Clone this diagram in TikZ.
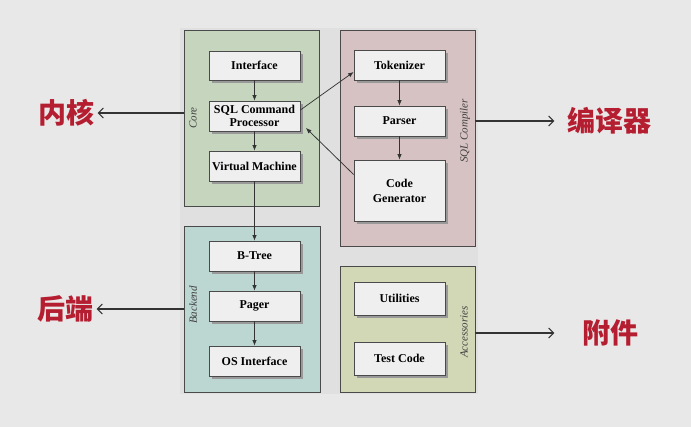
\documentclass[tikz,border=0pt]{standalone}
\usepackage{fontspec}
\setmainfont{Liberation Serif}
\newfontfamily\cjk{Noto Sans CJK SC}
\usetikzlibrary{arrows.meta,shadows}
\definecolor{bgc}{HTML}{E8E8E8}
\definecolor{panelc}{HTML}{E0E0E0}
\definecolor{corec}{HTML}{C6D6BE}
\definecolor{compc}{HTML}{D6C2C2}
\definecolor{backc}{HTML}{BCD6D2}
\definecolor{accc}{HTML}{D2D8B6}
\definecolor{boxc}{HTML}{EFEFEF}
\definecolor{edgec}{HTML}{4A4A4A}
\definecolor{redc}{HTML}{B51D30}
\begin{document}
\begin{tikzpicture}[x=1pt,y=-1pt,
  group/.style={draw=edgec,line width=0.9pt},
  inner/.style={draw=edgec,line width=0.8pt,fill=boxc,minimum width=91pt,
    inner sep=1pt,align=center,font=\bfseries\fontsize{12}{13}\selectfont,
    drop shadow={shadow xshift=3pt,shadow yshift=-3pt,fill=black!40,opacity=1}},
  glabel/.style={font=\itshape\fontsize{11}{12}\selectfont,text=black!75,rotate=90},
  flow/.style={draw=black!80,line width=0.75pt,-{Latex[length=5.5pt,width=4.5pt]}},
  side/.style={draw=black!80,line width=1.1pt,-{Straight Barb[length=5pt,width=10pt]}},
  cn/.style={font=\cjk\bfseries\fontsize{28}{30}\selectfont,text=redc}]
\useasboundingbox (0,0) rectangle (691,427);
\fill[bgc] (0,0) rectangle (691,427);
\fill[panelc] (180,28) rectangle (478,394);
% groups
\draw[group,fill=corec] (184,30) rectangle (319,206);
\draw[group,fill=compc] (340,30) rectangle (475,246);
\draw[group,fill=backc] (184,226) rectangle (320,392);
\draw[group,fill=accc] (340,266) rectangle (475,392);
\coordinate (coreL) at (184,113);
\coordinate (backL) at (184,309);
\coordinate (compR) at (475,121);
\coordinate (accR) at (475,333);
\node[glabel] (lcore) at (193,118) {Core};
\node[glabel] (lcomp) at (465,131) {SQL Compiler};
\node[glabel] (lback) at (193,305) {Backend};
\node[glabel] (lacc) at (464,332) {Accessories};
% inner boxes
\node[inner,minimum height=29pt] (iface) at (254.5,65.5) {Interface};
\node[inner,minimum height=30pt] (sql) at (254.5,116) {SQL Command\\Processor};
\node[inner,minimum height=30pt] (vm) at (254.5,166) {Virtual Machine};
\node[inner,minimum height=30pt] (tok) at (399.5,65) {Tokenizer};
\node[inner,minimum height=30pt] (parse) at (399.5,121) {Parser};
\node[inner,minimum height=61pt] (cg) at (399.5,190.5) {Code\\[2pt]Generator};
\node[inner,minimum height=30pt] (bt) at (254.5,256) {B-Tree};
\node[inner,minimum height=30pt] (pg) at (254.5,306) {Pager};
\node[inner,minimum height=30pt] (os) at (254.5,361) {OS Interface};
\node[inner,minimum height=33pt] (util) at (399.5,298.5) {Utilities};
\node[inner,minimum height=33pt] (test) at (399.5,358.5) {Test Code};
% flows
\draw[flow] (iface) -- (sql);
\draw[flow] (sql) -- (vm);
\draw[flow] (vm) -- (bt);
\draw[flow] (bt) -- (pg);
\draw[flow] (pg) -- (os);
\draw[flow] (tok) -- (parse);
\draw[flow] (parse) -- (cg);
\draw[flow] (sql.east) ++(0,-6) -- (tok.west |- 0,72);
\draw[flow] (cg.west) ++(0,-16) -- (306,128);
% side labels
\node[cn] (ncore) at (66,113) {内核};
\node[cn] (nback) at (65,309) {后端};
\node[cn] (ncomp) at (609,121) {编译器};
\node[cn] (nacc) at (610,333) {附件};
\draw[side] (coreL) -- (ncore.east);
\draw[side] (backL) -- (nback.east);
\draw[side] (compR) -- ([xshift=-9pt]ncomp.west);
\draw[side] (accR) -- ([xshift=-24pt]nacc.west);
\end{tikzpicture}
\end{document}
